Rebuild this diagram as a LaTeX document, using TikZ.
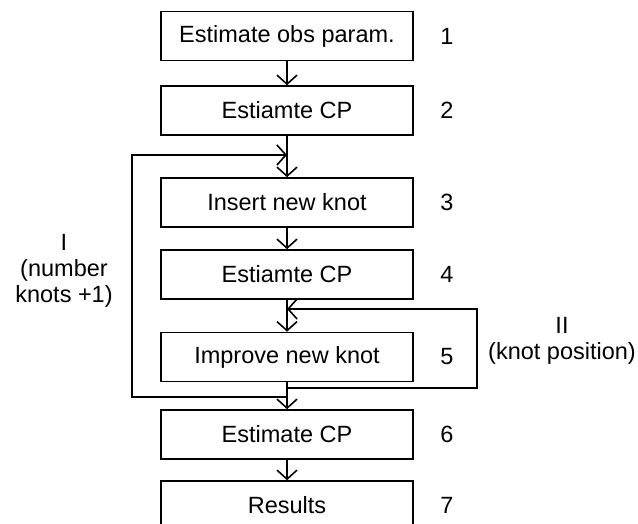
\documentclass[tikz,border=0pt]{standalone}
\usepackage{fontspec}
\setmainfont{Liberation Sans}
\usepackage{tikz}
\usetikzlibrary{arrows.meta}

\begin{document}
\begin{tikzpicture}[x=1pt,y=-1pt,line width=1.6pt,
    >={Straight Barb[length=9pt,width=20pt,line width=1.6pt]}]
      \tikzstyle{every node}=[font=\fontsize{23.5}{26}\selectfont]
      \tikzstyle{stepbox}=[draw,rectangle,minimum width=252pt,
			      minimum height=49pt,inner sep=0pt]
      \tikzstyle{stepnum}=[inner sep=0pt]
      \useasboundingbox (0,0) rectangle (638,524);
      \clip (0,0) rectangle (638,524);
      % the steps
      \node (step1) [stepbox] at (287,36)    {Estimate obs param.};
      \node (step2) [stepbox] at (287,110.5) {Estiamte CP};
      \node (step3) [stepbox] at (287,202.5) {Insert new knot};
      \node (step4) [stepbox] at (287,274.5) {Estiamte CP};
      \node (step5) [stepbox] at (287,357)   {Improve new knot};
      \node (step6) [stepbox] at (287,434.5) {Estimate CP};
      \node (step7) [stepbox] at (287,505.5) {Results};
      \foreach \i/\y in {1/36,2/110.5,3/202.5,4/274.5,5/357,6/434.5,7/505.5}
        \node (num\i) [stepnum] at (447,\y) {\i};
      \draw[->] (step1) -- (step2);
      \draw[->] (step2) -- (step3);
      \draw[->] (step3) -- (step4);
      \draw[->] (step4) -- (step5);
      \draw[->] (step5) -- (step6);
      \draw[->] (step6) -- (step7);
      % loop I
      \coordinate (inI) at (287,155);
      \coordinate (outI) at (287,397);
      \draw[->] (outI) -- (132,397) -- (132,155) -- (inI);
      % loop II
      \coordinate (inII) at (287,309);
      \coordinate (outII) at (287,388);
      \draw[->] (outII) -- (477,388) -- (477,309) -- (inII);
      \node (loopI) [align=center] at (64,271) {I\\(number\\knots +1)};
      \node (loopII) [align=center] at (562,341) {II\\(knot position)};
  \end{tikzpicture}
\end{document}
